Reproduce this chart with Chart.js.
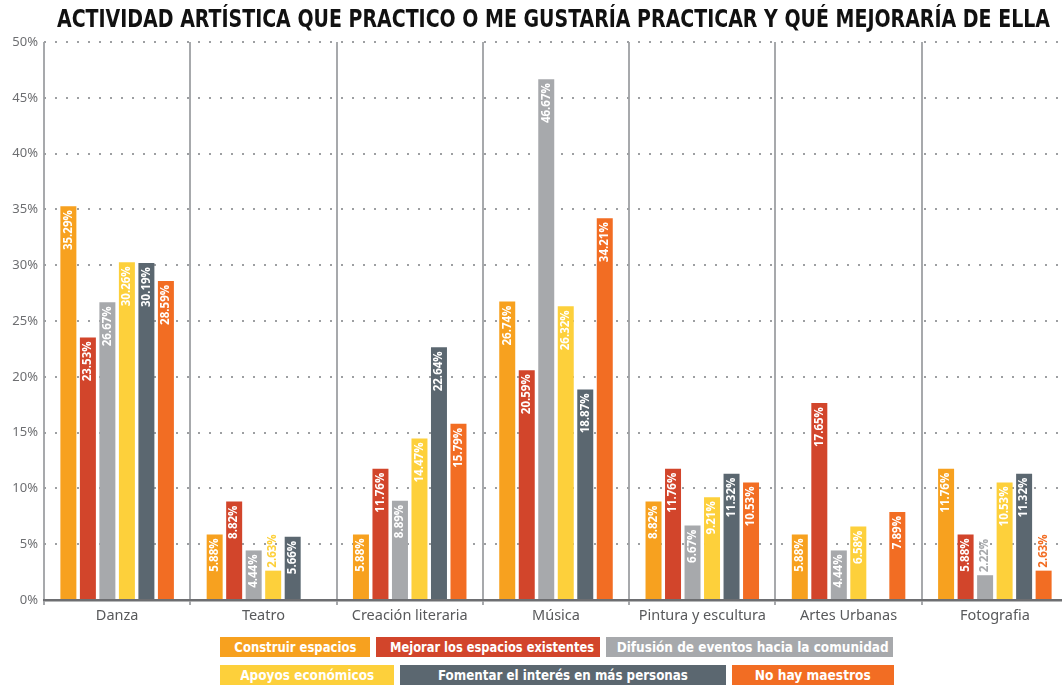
<!DOCTYPE html>
<html>
<head>
<meta charset="utf-8">
<script src="https://cdn.jsdelivr.net/npm/chart.js@4.4.1/dist/chart.umd.min.js"></script>
<style>
body{margin:0;overflow:hidden;background:#fff;width:1062px;height:687px;}
#wrap{position:absolute;left:0;top:0;width:1068px;height:630px;}
#titulo{position:absolute;left:57px;top:5px;white-space:nowrap;transform-origin:0 0;
  font-family:"DejaVu Sans Condensed","DejaVu Sans",sans-serif;font-stretch:condensed;font-weight:bold;font-size:24px;color:#111;}
.row{position:absolute;left:220px;display:flex;gap:6px;}
.box{height:20px;line-height:20px;color:#fff;text-align:center;overflow:hidden;white-space:nowrap;
  font-family:"DejaVu Sans Condensed","DejaVu Sans",sans-serif;font-stretch:condensed;font-weight:bold;font-size:14.5px;}
.box span{display:inline-block;transform-origin:50% 50%;}
</style>
</head>
<body>
<div id="wrap"><canvas id="myChart" width="1068" height="630"></canvas></div>
<div id="titulo">ACTIVIDAD ARTÍSTICA QUE PRACTICO O ME GUSTARÍA PRACTICAR Y QUÉ MEJORARÍA DE ELLA</div>
<div class="row" id="row1" style="top:637px"></div>
<div class="row" id="row2" style="top:665px"></div>
<script>
var categorias = ["Danza", "Teatro", "Creación literaria", "Música", "Pintura y escultura", "Artes Urbanas", "Fotografia"];
var yTicks = [0, 5, 10, 15, 20, 25, 30, 35, 40, 45, 50];

var construir = [35.29, 5.88, 5.88, 26.74, 8.82, 5.88, 11.76];
var mejorar   = [23.53, 8.82, 11.76, 20.59, 11.76, 17.65, 5.88];
var difusion  = [26.67, 4.44, 8.89, 46.67, 6.67, 4.44, 2.22];
var apoyos    = [30.26, 2.63, 14.47, 26.32, 9.21, 6.58, 10.53];
var fomentar  = [30.19, 5.66, 22.64, 18.87, 11.32, null, 11.32];
var maestros  = [28.59, null, 15.79, 34.21, 10.53, 7.89, 2.63];

var nombres = ["Construir espacios", "Mejorar los espacios existentes", "Difusión de eventos hacia la comunidad",
               "Apoyos económicos", "Fomentar el interés en más personas", "No hay maestros"];
var colores = ["#F7A11F", "#D2452B", "#A7A9AC", "#FDD03B", "#5B6770", "#F26D23"];
var series = [construir, mejorar, difusion, apoyos, fomentar, maestros];

// title squeezed to the width it has in the picture
var tit = document.getElementById("titulo");
var tw = tit.getBoundingClientRect().width;
tit.style.transform = "scaleX(" + (993 / tw) + ")";

// legend boxes (html)
var anchos = [150, 224, 287, 174, 326, 162];
var textos = [122, 204, 272, 134, 250, 116];
for (var i = 0; i < nombres.length; i++) {
  var b = document.createElement("div");
  b.className = "box";
  b.style.background = colores[i];
  b.style.width = anchos[i] + "px";
  var s = document.createElement("span");
  s.textContent = nombres[i];
  b.appendChild(s);
  document.getElementById(i < 3 ? "row1" : "row2").appendChild(b);
  var sw = s.getBoundingClientRect().width;
  s.style.transform = "scaleX(" + (textos[i] / sw) + ")";
}

var datasets = [];
for (var i = 0; i < series.length; i++) {
  datasets.push({
    label: nombres[i],
    data: series[i],
    backgroundColor: colores[i],
    categoryPercentage: 0.8,
    barPercentage: 0.82
  });
}

const labelPlugin = {
  id: 'etiquetas',
  afterDatasetsDraw(chart) {
    var ctx = chart.ctx;
    chart.data.datasets.forEach(function(ds, i) {
      var meta = chart.getDatasetMeta(i);
      meta.data.forEach(function(bar, j) {
        var v = ds.data[j];
        if (v === null) return;
        var txt = v.toFixed(2) + "%";
        ctx.save();
        ctx.font = 'bold 11.5px "Open Sans"';
        var w = ctx.measureText(txt).width;
        var h = bar.base - bar.y;
        ctx.textBaseline = "middle";
        if (h > w + 8) {
          ctx.translate(bar.x, bar.y + 4);
          ctx.rotate(-Math.PI / 2);
          ctx.textAlign = "right";
          ctx.fillStyle = "#fff";
        } else {
          ctx.translate(bar.x, bar.y - 3);
          ctx.rotate(-Math.PI / 2);
          ctx.textAlign = "left";
          ctx.fillStyle = ds.backgroundColor;
        }
        ctx.fillText(txt, 0, 0);
        ctx.restore();
      });
    });
  }
};

const ctx = document.getElementById('myChart');
const myChart = new Chart(ctx, {
  type: 'bar',
  data: {
    labels: categorias,
    datasets: datasets
  },
  plugins: [labelPlugin],
  options: {
    responsive: false,
    animation: false,
    layout: { padding: { top: 42, right: 0, bottom: 0, left: 0 } },
    plugins: {
      legend: { display: false },
      title: { display: false },
      tooltip: { enabled: false }
    },
    scales: {
      x: {
        grid: { offset: true, color: "#A7A9AC", lineWidth: 2, tickLength: 5 },
        border: { color: "#6D6E71", width: 2.5 },
        ticks: { color: "#58595B", font: { family: "Noto Sans", size: 14.5 }, padding: 2 },
        afterFit: function(s) { s.height = 30; }
      },
      y: {
        min: 0,
        max: 50,
        afterBuildTicks: function(s) { s.ticks = yTicks.map(function(t) { return { value: t }; }); },
        grid: { color: "#9D9FA2", lineWidth: 2, drawTicks: false },
        border: { display: false, dash: [2, 9] },
        ticks: {
          color: "#6D6E71",
          font: { family: "Noto Sans", size: 13 },
          padding: 6,
          callback: function(v) { return v + "%"; }
        },
        afterFit: function(s) { s.width = 44; }
      }
    }
  }
});
</script>
</body>
</html>
